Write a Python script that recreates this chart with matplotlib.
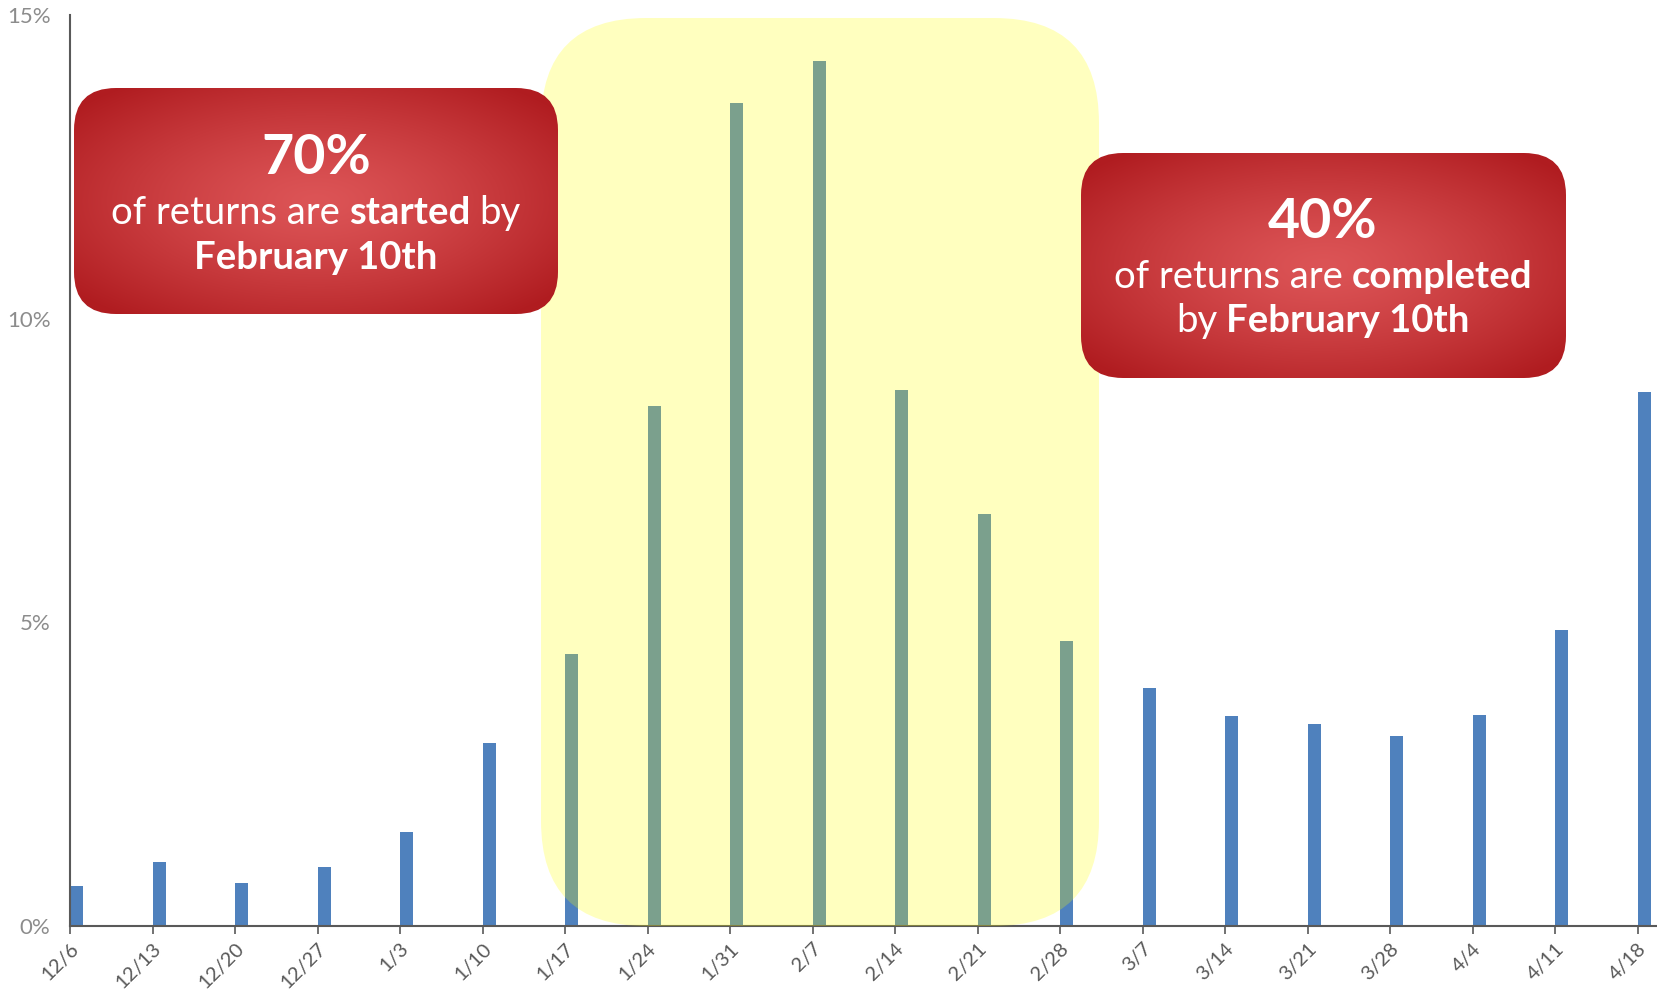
import numpy as np
from matplotlib import pyplot as plt
from matplotlib.patches import FancyBboxPatch

# Weekly share of returns
weeks = ['12/6', '12/13', '12/20', '12/27', '1/3', '1/10', '1/17', '1/24',
         '1/31', '2/7', '2/14', '2/21', '2/28', '3/7', '3/14', '3/21',
         '3/28', '4/4', '4/11', '4/18']
shares = [0.66, 1.05, 0.71, 0.97, 1.55, 3.01, 4.48, 8.57, 13.55, 14.24,
          8.83, 6.79, 4.70, 3.92, 3.45, 3.33, 3.13, 3.48, 4.87, 8.80]
y_ticks = [0, 5, 10, 15]
y_labels = ['0%', '5%', '10%', '15%']

plt.rcParams['font.family'] = ['Lato', 'DejaVu Sans']

W, H = 1657, 996
fig = plt.figure(figsize=(W / 100, H / 100), dpi=100)
ax = fig.add_axes([70 / W, 70 / H, (W - 70) / W, 911 / H])

x = np.arange(len(weeks))
ax.bar(x, shares, width=0.16, align='edge', color='#4F81BD', zorder=2)

ax.set_xlim(0, (W - 70) / 82.5)
ax.set_ylim(0, 15)
ax.set_xticks(x)
ax.set_xticklabels(weeks, rotation=45, ha='right', rotation_mode='anchor',
                   fontsize=14.5, color='#595959')
ax.set_yticks(y_ticks)
ax.set_yticklabels(y_labels, fontsize=16, color='#8C8C8C')
ax.tick_params(axis='y', length=0, pad=14)
ax.tick_params(axis='x', length=6, width=1.2, color='#595959', pad=4)
for side in ['top', 'right']:
    ax.spines[side].set_visible(False)
for side in ['left', 'bottom']:
    ax.spines[side].set_color('#595959')
    ax.spines[side].set_linewidth(1.5)

# Overlay axes in pixel coordinates for the callouts
ov = fig.add_axes([0, 0, 1, 1])
ov.set_xlim(0, W)
ov.set_ylim(H, 0)
ov.axis('off')

# Yellow highlight
ov.add_patch(FancyBboxPatch((541, 18), 558, 908,
                            boxstyle='round,pad=0,rounding_size=105',
                            facecolor='#FFFF00', alpha=0.25,
                            edgecolor='none', zorder=3))

light = np.array([220, 84, 86]) / 255
dark = np.array([176, 28, 32]) / 255


def red_box(x0, y0, w, h):
    patch = FancyBboxPatch((x0, y0), w, h,
                           boxstyle='round,pad=0,rounding_size=42',
                           facecolor='none', edgecolor='none', zorder=4)
    ov.add_patch(patch)
    gx, gy = np.meshgrid(np.linspace(-1, 1, 300), np.linspace(-1, 1, 150))
    t = np.clip(np.sqrt(gx ** 2 + gy ** 2) / 1.3, 0, 1) ** 1.3
    img = light[None, None, :] * (1 - t[..., None]) + dark[None, None, :] * t[..., None]
    im = ov.imshow(img, extent=(x0, x0 + w, y0 + h, y0), origin='upper',
                   aspect='auto', zorder=4, interpolation='bilinear')
    im.set_clip_path(patch)


renderer = fig.canvas.get_renderer()


def mixed_line(cx, cy, parts, size):
    texts = []
    widths = []
    for s, weight in parts:
        t = ov.text(0, cy, s, fontsize=size, fontweight=weight, color='white',
                    ha='left', va='center', zorder=5)
        texts.append(t)
        widths.append(t.get_window_extent(renderer).width)
    gap = size * 100 / 72 * 0.23
    total = sum(widths) + gap * (len(parts) - 1)
    xpos = cx - total / 2
    for t, w in zip(texts, widths):
        t.set_x(xpos)
        xpos += w + gap


red_box(74, 88, 484, 226)
ov.text(316, 158, '70%', fontsize=40, fontweight='bold', color='white',
        ha='center', va='center', zorder=5)
mixed_line(316, 213, [('of returns are', 'normal'), ('started', 'bold'),
                      ('by', 'normal')], 27.5)
mixed_line(316, 258, [('February 10th', 'bold')], 27.5)

red_box(1081, 153, 485, 225)
ov.text(1323, 222, '40%', fontsize=40, fontweight='bold', color='white',
        ha='center', va='center', zorder=5)
mixed_line(1323, 277, [('of returns are', 'normal'), ('completed', 'bold')], 27.5)
mixed_line(1323, 321, [('by', 'normal'), ('February 10th', 'bold')], 27.5)

fig.savefig('out.png', dpi=100)
